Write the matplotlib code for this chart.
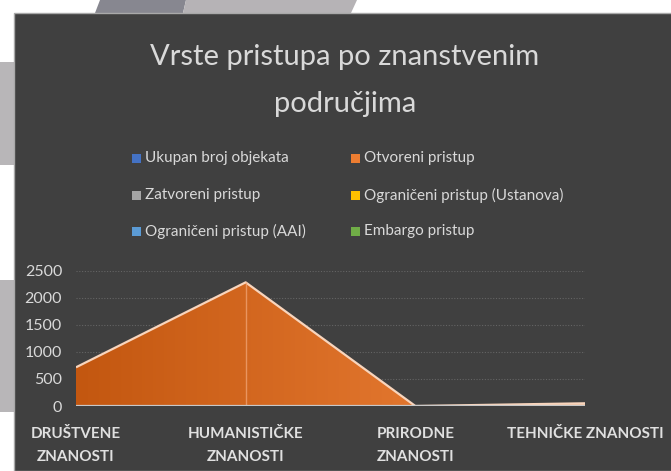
import matplotlib
matplotlib.use("Agg")
import matplotlib.pyplot as plt
import numpy as np
from matplotlib.patches import Rectangle, Polygon
from matplotlib.colors import LinearSegmentedColormap

# ---- data ----
categories = ["DRUŠTVENE\nZNANOSTI", "HUMANISTIČKE\nZNANOSTI", "PRIRODNE\nZNANOSTI", "TEHNIČKE ZNANOSTI"]
otvoreni = [715, 2285, 0, 50]
yticks = [0, 500, 1000, 1500, 2000, 2500]
legend_labels = ["Ukupan broj objekata", "Otvoreni pristup", "Zatvoreni pristup",
                 "Ograničeni pristup (Ustanova)", "Ograničeni pristup (AAI)", "Embargo pristup"]
legend_colors = ["#4472c4", "#ed7d31", "#a5a5a5", "#ffc000", "#5b9bd5", "#70ad47"]
title_lines = ["Vrste pristupa po znanstvenim", "područjima"]

W, H = 671, 471
fig = plt.figure(figsize=(W / 100, H / 100), dpi=100, facecolor="white")

def fx(x):
    return x / W

def fy(y):
    return 1 - y / H

# background decoration shapes
fig.patches.append(Polygon([(fx(100), fy(0)), (fx(186), fy(0)), (fx(183), fy(13)), (fx(95), fy(13))],
                           closed=True, transform=fig.transFigure, facecolor="#878790", edgecolor="none", zorder=0))
fig.patches.append(Polygon([(fx(186), fy(0)), (fx(357), fy(0)), (fx(351), fy(13)), (fx(183), fy(13))],
                           closed=True, transform=fig.transFigure, facecolor="#b6b3b6", edgecolor="none", zorder=0))
fig.patches.append(Rectangle((0, fy(165)), fx(14), fy(62) - fy(165), transform=fig.transFigure,
                             facecolor="#b8b6b8", edgecolor="none", zorder=0))
fig.patches.append(Rectangle((0, fy(412)), fx(14), fy(280) - fy(412), transform=fig.transFigure,
                             facecolor="#b8b6b8", edgecolor="none", zorder=0))
# dark panel
fig.patches.append(Rectangle((fx(13.5), 0), 1.1, fy(12.5), transform=fig.transFigure,
                             facecolor="#404040", edgecolor="#a9a9a9", linewidth=1.0, zorder=1))

plt.rcParams["font.family"] = ["Lato", "DejaVu Sans"]
txtc = "#d9d9d9"

# title
fig.text(fx(345), fy(65), title_lines[0], ha="center", va="baseline", fontsize=21,
         color=txtc, fontweight="normal")
fig.text(fx(345), fy(112), title_lines[1], ha="center", va="baseline", fontsize=21,
         color=txtc, fontweight="normal")

# legend (manual, row-major)
col_x = [132, 351]
row_y = [158, 195, 231]
for i, (lab, col) in enumerate(zip(legend_labels, legend_colors)):
    r, c = divmod(i, 2)
    x0, yc = col_x[c], row_y[r]
    fig.patches.append(Rectangle((fx(x0), fy(yc + 4.5)), fx(9), fy(yc - 4.5) - fy(yc + 4.5),
                                 transform=fig.transFigure, facecolor=col, edgecolor="none", zorder=3))
    fig.text(fx(x0 + 13), fy(yc), lab, ha="left", va="center", fontsize=11, color=txtc, zorder=3)

# plot axes
left, right, top0, bot0 = 76, 585, 270.7, 406
ax = fig.add_axes([fx(left), fy(bot0), (right - left) / W, (bot0 - top0) / H])
ax.set_facecolor("none")
ax.set_zorder(2)
x = np.arange(len(categories))
ax.set_xlim(0, len(categories) - 1)
ax.set_ylim(0, 2500)

for yv in yticks[1:]:
    ax.axhline(yv, color="#646464", linestyle=(0, (1, 1.5)), linewidth=0.8, zorder=1)

poly = ax.fill_between(x, 0, otvoreni, facecolor="none", edgecolor="none", zorder=2)
cmap = LinearSegmentedColormap.from_list("og", [(0, "#c35710"), (2 / 3, "#e2762e"), (1, "#f7c3a0")])
grad = np.linspace(0, 1, 256).reshape(1, -1)
im = ax.imshow(grad, extent=[0, len(categories) - 1, 0, 2500], aspect="auto", cmap=cmap,
               origin="lower", zorder=2, interpolation="bilinear")
path = poly.get_paths()[0]
im.set_clip_path(path, transform=ax.transData)

ax.plot(x, otvoreni, color="#f8d5bd", linewidth=1.6, zorder=3, solid_capstyle="butt")
ax.vlines(x[1], 0, otvoreni[1], color="#f0a070", linewidth=1.0, zorder=3, alpha=0.8)
ax.axhline(0, color="#c8c8c8", linewidth=1.6, zorder=4)

for s in ax.spines.values():
    s.set_visible(False)
ax.set_yticks(yticks)
ax.set_yticklabels([str(v) for v in yticks], fontsize=11.5, color=txtc)
ax.set_xticks(x)
ax.set_xticklabels(categories, fontsize=11, fontweight="bold", color="#e0e0e0", linespacing=1.85)
ax.tick_params(axis="both", length=0)
ax.tick_params(axis="y", pad=10)
ax.tick_params(axis="x", pad=15)

fig.savefig("out.png", dpi=100, facecolor="white")
